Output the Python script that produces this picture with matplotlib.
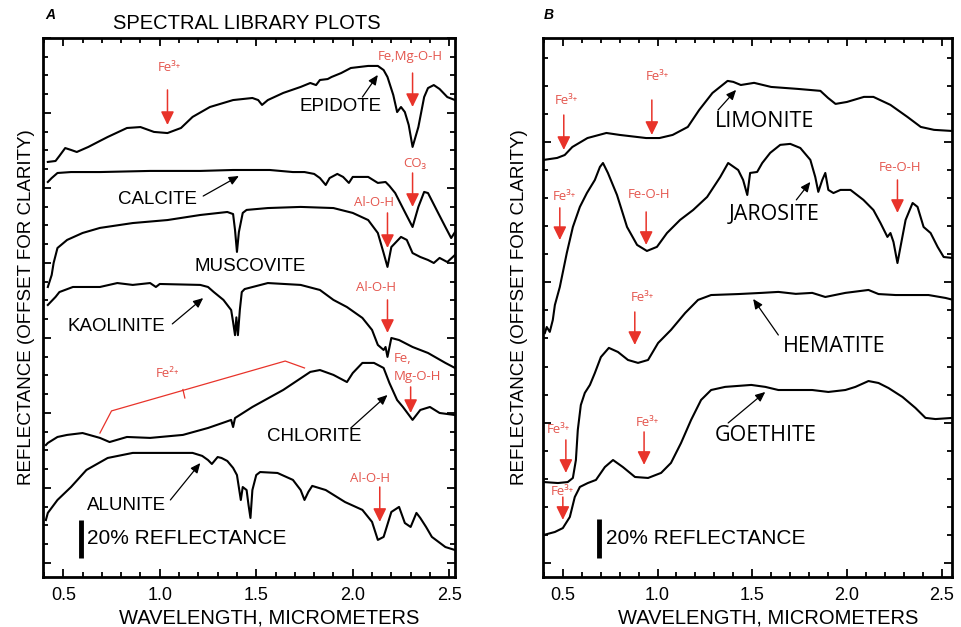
import matplotlib.pyplot as plt
from matplotlib.ticker import MultipleLocator

# ---- panel A spectra: wavelength (um) vs reflectance (%, offset for clarity)
epidote_wl = [0.42, 0.46, 0.48, 0.51, 0.54, 0.57, 0.63, 0.69, 0.73, 0.83, 0.90, 0.97, 1.04, 1.11, 1.17, 1.26,
              1.38, 1.48, 1.51, 1.53, 1.56, 1.64, 1.73, 1.78, 1.81, 1.83, 1.87, 1.89, 1.94, 1.99, 2.08, 2.13,
              2.16, 2.18, 2.21, 2.23, 2.25, 2.27, 2.29, 2.31, 2.34, 2.37, 2.39, 2.42, 2.45, 2.49, 2.53]
epidote_r = [213.9, 214.4, 217.1, 221.3, 220.3, 219.2, 221.9, 225.1, 227.2, 232.0, 232.5, 229.9, 229.3, 232.0,
             237.9, 243.2, 246.9, 248.0, 246.9, 244.3, 246.9, 250.7, 253.9, 256.0, 254.9, 257.6, 258.1, 259.2,
             261.3, 264.0, 265.1, 265.1, 262.9, 259.2, 249.6, 240.5, 243.2, 240.5, 233.6, 221.9, 232.5, 248.5,
             253.3, 254.9, 252.8, 248.5, 246.9]

calcite_wl = [0.42, 0.44, 0.47, 0.54, 0.69, 0.95, 1.21, 1.38, 1.57, 1.69, 1.75, 1.80, 1.83, 1.86, 1.88, 1.92,
              1.95, 1.98, 2.00, 2.08, 2.13, 2.17, 2.19, 2.22, 2.27, 2.31, 2.34, 2.37, 2.39, 2.44, 2.48, 2.51, 2.53]
calcite_r = [203.2, 205.3, 208.0, 208.5, 208.5, 209.1, 209.1, 209.6, 209.6, 208.5, 208.5, 207.5, 205.3, 201.6,
             205.3, 207.5, 205.9, 202.7, 205.9, 205.9, 202.7, 203.2, 201.1, 197.3, 187.2, 179.2, 189.9, 197.9,
             197.3, 187.2, 179.2, 173.3, 176.5]

muscovite_wl = [0.42, 0.44, 0.45, 0.47, 0.52, 0.60, 0.69, 0.86, 1.04, 1.21, 1.35, 1.38, 1.39, 1.40, 1.41, 1.43,
                1.45, 1.56, 1.73, 1.90, 2.00, 2.08, 2.13, 2.16, 2.18, 2.20, 2.25, 2.28, 2.31, 2.35, 2.39, 2.42,
                2.45, 2.49, 2.53]
muscovite_r = [147.2, 153.6, 160.0, 168.0, 172.3, 176.0, 178.7, 181.3, 182.9, 185.6, 187.2, 186.1, 177.6, 165.9,
               176.5, 186.7, 188.3, 189.3, 189.9, 189.3, 186.7, 182.9, 176.0, 165.3, 157.9, 168.5, 173.9, 172.3,
               165.3, 163.2, 161.6, 160.0, 162.7, 160.5, 164.3]

kaolinite_wl = [0.42, 0.46, 0.48, 0.55, 0.69, 0.78, 0.86, 0.95, 0.98, 1.00, 1.21, 1.25, 1.28, 1.33, 1.37, 1.38,
                1.39, 1.397, 1.405, 1.415, 1.425, 1.44, 1.56, 1.73, 1.83, 1.90, 1.97, 2.05, 2.10, 2.13, 2.16,
                2.17, 2.18, 2.20, 2.24, 2.31, 2.39, 2.48, 2.53]
kaolinite_r = [137.6, 141.9, 144.5, 147.2, 147.2, 149.3, 148.3, 149.3, 147.2, 148.8, 148.3, 147.2, 144.5, 140.3,
               134.9, 128.5, 121.5, 131.0, 121.5, 135.0, 144.5, 146.1, 149.3, 148.3, 145.6, 140.3, 136.5, 130.7,
               124.3, 116.3, 113.6, 115.2, 109.9, 120.0, 118.9, 115.2, 112.0, 106.7, 104.0]

chlorite_wl = [0.41, 0.42, 0.47, 0.52, 0.60, 0.69, 0.74, 0.83, 0.95, 1.12, 1.25, 1.34, 1.37, 1.38, 1.39, 1.48,
               1.64, 1.78, 1.83, 1.90, 1.97, 2.00, 2.05, 2.11, 2.16, 2.19, 2.23, 2.26, 2.31, 2.35, 2.40, 2.45, 2.53]
chlorite_r = [62.9, 64.0, 67.2, 68.3, 69.3, 66.7, 64.5, 67.2, 66.7, 68.3, 72.0, 75.2, 76.3, 72.5, 77.3, 83.2,
              92.3, 101.9, 102.9, 100.3, 96.5, 101.3, 106.7, 106.7, 104.0, 96.0, 86.9, 83.2, 76.3, 81.6, 83.2,
              80.0, 78.9]

alunite_wl = [0.41, 0.42, 0.47, 0.54, 0.62, 0.73, 0.86, 1.04, 1.17, 1.22, 1.25, 1.27, 1.30, 1.32, 1.35, 1.38,
              1.40, 1.42, 1.43, 1.45, 1.46, 1.47, 1.48, 1.50, 1.52, 1.61, 1.69, 1.73, 1.75, 1.77, 1.79, 1.86,
              1.96, 2.05, 2.10, 2.13, 2.16, 2.20, 2.24, 2.27, 2.30, 2.33, 2.35, 2.38, 2.41, 2.48, 2.53]
alunite_r = [22.9, 26.7, 33.6, 40.5, 49.6, 56.0, 58.7, 58.7, 58.7, 57.1, 54.9, 52.8, 56.5, 56.0, 54.4, 50.7,
             46.9, 33.6, 40.5, 38.9, 30.9, 24.0, 38.9, 46.9, 48.5, 48.0, 44.3, 38.9, 33.6, 37.9, 41.1, 38.9,
             32.5, 28.3, 21.9, 12.3, 13.9, 27.2, 29.9, 21.3, 19.2, 26.7, 24.0, 19.2, 13.9, 8.5, 6.9]

# ---- panel B spectra (iron minerals)
limonite_wl = [0.40, 0.47, 0.51, 0.55, 0.63, 0.73, 0.80, 0.94, 1.01, 1.08, 1.16, 1.22, 1.29, 1.37, 1.40, 1.44,
               1.51, 1.60, 1.74, 1.86, 1.90, 1.94, 2.00, 2.09, 2.14, 2.23, 2.32, 2.39, 2.46, 2.56]
limonite_r = [206.7, 207.7, 209.2, 213.3, 217.9, 220.5, 219.5, 217.9, 217.9, 219.5, 223.6, 232.3, 241.0, 247.2,
              246.7, 245.1, 246.2, 244.1, 243.1, 242.1, 238.5, 235.4, 236.4, 239.0, 239.0, 234.9, 228.7, 223.6,
              222.1, 221.5]

jarosite_wl = [0.405, 0.415, 0.431, 0.447, 0.458, 0.484, 0.521, 0.553, 0.590, 0.627, 0.669, 0.696, 0.712, 0.738,
               0.786, 0.839, 0.892, 0.944, 0.997, 1.050, 1.119, 1.188, 1.262, 1.331, 1.373, 1.426, 1.452, 1.474,
               1.489, 1.526, 1.553, 1.595, 1.648, 1.701, 1.754, 1.807, 1.833, 1.849, 1.870, 1.886, 1.902, 1.929,
               1.966, 2.019, 2.087, 2.140, 2.177, 2.214, 2.230, 2.246, 2.267, 2.283, 2.310, 2.347, 2.373, 2.405,
               2.442, 2.479, 2.511, 2.558]
jarosite_r = [117.9, 121.0, 118.5, 124.6, 132.3, 141.5, 159.0, 172.3, 182.6, 189.7, 196.4, 203.1, 205.1, 200.0,
              188.7, 172.3, 163.1, 160.0, 162.1, 169.2, 175.9, 181.0, 187.7, 197.9, 205.1, 201.5, 196.4, 188.7,
              200.0, 200.5, 205.1, 210.3, 214.4, 214.9, 212.8, 206.7, 197.9, 190.3, 196.4, 200.0, 191.3, 189.7,
              191.3, 191.3, 186.2, 181.0, 174.4, 167.2, 169.2, 164.6, 153.8, 162.1, 175.9, 184.6, 182.6, 172.3,
              169.2, 162.1, 156.9, 156.4]

hematite_wl = [0.40, 0.474, 0.526, 0.553, 0.569, 0.579, 0.595, 0.616, 0.643, 0.669, 0.701, 0.743, 0.791, 0.844,
               0.897, 0.950, 1.003, 1.071, 1.146, 1.214, 1.283, 1.426, 1.55, 1.638, 1.73, 1.817, 1.886, 1.992,
               2.114, 2.167, 2.257, 2.431, 2.521, 2.558]
hematite_r = [41.5, 41.0, 41.5, 43.6, 52.8, 68.2, 81.0, 87.2, 91.3, 97.4, 105.6, 110.3, 108.2, 104.1, 102.6,
              104.1, 112.8, 119.5, 128.2, 134.9, 137.4, 137.9, 138.5, 139.0, 138.0, 138.5, 136.4, 138.5, 140.0,
              137.9, 137.4, 137.4, 135.9, 135.0]

goethite_wl = [0.40, 0.458, 0.50, 0.537, 0.563, 0.590, 0.632, 0.675, 0.722, 0.765, 0.817, 0.881, 0.950, 1.019,
               1.071, 1.124, 1.177, 1.230, 1.283, 1.357, 1.495, 1.569, 1.638, 1.728, 1.817, 1.902, 1.992, 2.045,
               2.114, 2.167, 2.220, 2.294, 2.362, 2.415, 2.468, 2.558]
goethite_r = [14.4, 15.9, 17.9, 23.6, 33.8, 39.0, 41.0, 42.6, 49.2, 52.8, 49.2, 44.1, 43.6, 46.2, 51.3, 61.5,
              73.3, 83.6, 88.7, 90.3, 91.3, 90.3, 88.7, 88.7, 88.7, 87.7, 88.7, 90.3, 93.3, 92.3, 89.7, 85.1,
              79.5, 74.4, 73.8, 74.4]

xticks = [0.5, 1.0, 1.5, 2.0, 2.5]
scale_bar = 20  # % reflectance

RED = '#e8332a'
RED_TXT = '#e4564e'
plt.rcParams['font.family'] = ['Liberation Sans', 'DejaVu Sans']
RED_FONT = ['Open Sans', 'DejaVu Sans']

fig = plt.figure(figsize=(9.62, 6.27), dpi=100)
axA = fig.add_axes([0.0447, 0.0797, 0.4283, 0.8597])
axB = fig.add_axes([0.5644, 0.0797, 0.4252, 0.8597])


def style_axes(ax, xlim, ylim, minor_y, major_y, ypad):
    ax.set_xlim(*xlim)
    ax.set_ylim(*ylim)
    ax.set_xticks(xticks)
    ax.set_xticklabels([f'{t:.1f}' for t in xticks])
    ax.xaxis.set_minor_locator(MultipleLocator(0.1))
    ax.yaxis.set_major_locator(MultipleLocator(major_y))
    ax.yaxis.set_minor_locator(MultipleLocator(minor_y))
    ax.tick_params(which='both', direction='in', top=True, right=True, width=1.3, labelleft=False)
    ax.tick_params(which='major', length=6, labelsize=13, pad=7)
    ax.tick_params(which='minor', length=3.5)
    for sp in ax.spines.values():
        sp.set_linewidth(2.0)
    ax.set_xlabel('WAVELENGTH, MICROMETERS', fontsize=14.5)
    ax.xaxis.set_label_coords(0.55, -0.058)
    ax.set_ylabel('REFLECTANCE (OFFSET FOR CLARITY)', fontsize=13.5, labelpad=ypad)


def red_arrow(ax, x, y0, y1):
    ax.annotate('', xy=(x, y1), xytext=(x, y0),
                arrowprops=dict(arrowstyle='-|>,head_length=0.45,head_width=0.22', color=RED,
                                lw=1.1, mutation_scale=18, shrinkA=0, shrinkB=0))


def red_label(ax, x, y, s, ha='center'):
    ax.text(x, y, s, color=RED_TXT, fontsize=9.5, ha=ha, va='center', family=RED_FONT)


def mineral(ax, x, y, s, start, end, family=None, size=13.5):
    ax.text(x, y, s, fontsize=size, ha='center', va='center', family=family)
    ax.annotate('', xy=end, xytext=start,
                arrowprops=dict(arrowstyle='-|>,head_length=0.45,head_width=0.2', color='black',
                                lw=0.9, mutation_scale=13, shrinkA=0, shrinkB=0))


# ---------------- panel A ----------------
for wl, r in [(epidote_wl, epidote_r), (calcite_wl, calcite_r), (muscovite_wl, muscovite_r),
              (kaolinite_wl, kaolinite_r), (chlorite_wl, chlorite_r), (alunite_wl, alunite_r)]:
    axA.plot(wl, r, color='black', lw=1.5, solid_joinstyle='round')
style_axes(axA, (0.395, 2.53), (-7.5, 280), 10, 40, 6)

mineral(axA, 1.935, 243.7, 'EPIDOTE', (2.05, 248.5), (2.13, 260.3))
mineral(axA, 0.99, 194.1, 'CALCITE', (1.225, 195.7), (1.41, 206.4))
axA.text(1.47, 157.9, 'MUSCOVITE', fontsize=13.5, ha='center', va='center')
mineral(axA, 0.775, 125.9, 'KAOLINITE', (1.065, 127.5), (1.225, 141.3))
mineral(axA, 1.80, 67.7, 'CHLORITE', (1.99, 72.0), (2.18, 89.6))
mineral(axA, 0.83, 30.9, 'ALUNITE', (1.055, 33.6), (1.21, 53.3))

red_label(axA, 1.05, 264.0, 'Fe³⁺')
red_arrow(axA, 1.04, 252.3, 233.6)
red_label(axA, 2.30, 269.9, 'Fe,Mg-O-H')
red_arrow(axA, 2.31, 261.3, 243.2)
red_label(axA, 2.32, 213.3, 'CO₃')
red_arrow(axA, 2.31, 208.0, 189.9)
red_label(axA, 2.11, 192.5, 'Al-O-H')
red_arrow(axA, 2.18, 186.7, 168.0)
red_label(axA, 2.12, 146.7, 'Al-O-H')
red_arrow(axA, 2.18, 140.3, 122.7)
red_label(axA, 2.21, 109.3, 'Fe,', ha='left')
red_label(axA, 2.21, 99.7, 'Mg-O-H', ha='left')
red_arrow(axA, 2.30, 93.9, 80.0)
red_label(axA, 2.09, 44.8, 'Al-O-H')
red_arrow(axA, 2.14, 40.5, 21.9)

# broad ferrous iron band on chlorite
axA.plot([0.69, 0.75, 1.65, 1.75], [69.3, 81.1, 107.7, 104.0], color=RED, lw=0.9)
axA.plot([1.12, 1.13], [92.5, 88.0], color=RED, lw=0.9)
red_label(axA, 1.04, 101.3, 'Fe²⁺')

axA.plot([0.59, 0.59], [2.7, 2.7 + scale_bar], color='black', lw=3.5, solid_capstyle='butt')
axA.text(0.625, 13.3, '20% REFLECTANCE', fontsize=15, ha='left', va='center')

# ---------------- panel B ----------------
for wl, r in [(limonite_wl, limonite_r), (jarosite_wl, jarosite_r),
              (hematite_wl, hematite_r), (goethite_wl, goethite_r)]:
    axB.plot(wl, r, color='black', lw=1.5, solid_joinstyle='round')
style_axes(axB, (0.395, 2.555), (-7.2, 269.2), 14.39, 71.95, 11)

B_FONT = ['Open Sans', 'DejaVu Sans']
mineral(axB, 1.565, 226.2, 'LIMONITE', (1.32, 232.3), (1.415, 242.6), B_FONT, 15.5)
mineral(axB, 1.616, 178.5, 'JAROSITE', (1.733, 186.2), (1.807, 195.4), B_FONT, 15.5)
mineral(axB, 1.934, 110.8, 'HEMATITE', (1.638, 116.9), (1.505, 135.4), B_FONT, 15.5)
mineral(axB, 1.569, 65.6, 'GOETHITE', (1.373, 71.8), (1.569, 87.7), B_FONT, 15.5)

red_label(axB, 0.52, 237.4, 'Fe³⁺')
red_arrow(axB, 0.505, 229.7, 211.8)
red_label(axB, 1.00, 249.2, 'Fe³⁺')
red_arrow(axB, 0.97, 237.4, 219.5)
red_label(axB, 0.51, 187.7, 'Fe³⁺')
red_arrow(axB, 0.484, 182.1, 165.6)
red_label(axB, 0.955, 188.7, 'Fe-O-H')
red_arrow(axB, 0.94, 180.0, 163.1)
red_label(axB, 2.28, 202.6, 'Fe-O-H')
red_arrow(axB, 2.267, 196.4, 179.5)
red_label(axB, 0.918, 135.9, 'Fe³⁺')
red_arrow(axB, 0.88, 128.7, 111.8)
red_label(axB, 0.474, 68.2, 'Fe³⁺')
red_arrow(axB, 0.516, 63.1, 46.2)
red_label(axB, 0.944, 71.8, 'Fe³⁺')
red_arrow(axB, 0.929, 67.2, 50.3)
red_label(axB, 0.495, 36.4, 'Fe³⁺')
red_arrow(axB, 0.50, 33.8, 22.1)

axB.plot([0.69, 0.69], [2.6, 2.6 + scale_bar], color='black', lw=3.5, solid_capstyle='butt')
axB.text(0.727, 12.8, '20% REFLECTANCE', fontsize=15, ha='left', va='center')

fig.text(0.052, 0.976, 'A', fontsize=10, fontweight='bold', style='italic', ha='center', va='center')
fig.text(0.570, 0.976, 'B', fontsize=10, fontweight='bold', style='italic', ha='center', va='center')
fig.text(0.257, 0.963, 'SPECTRAL LIBRARY PLOTS', fontsize=14.5, ha='center', va='center')

fig.savefig('out.png', dpi=100)
